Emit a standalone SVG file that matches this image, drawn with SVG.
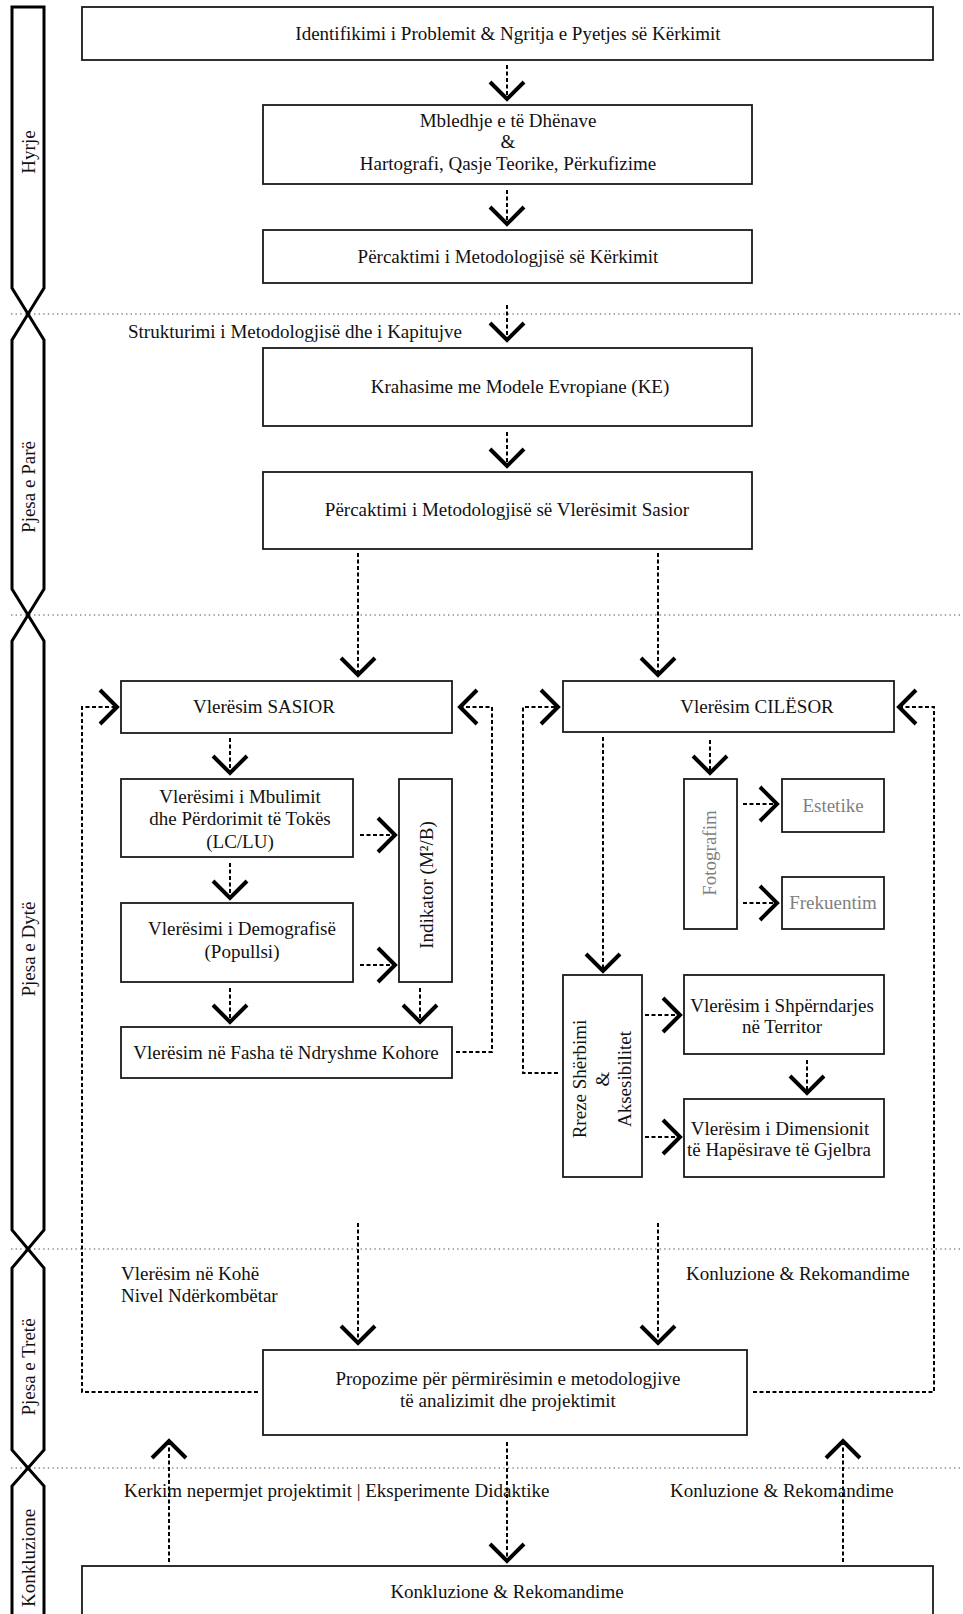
<svg xmlns="http://www.w3.org/2000/svg" width="963" height="1614" viewBox="0 0 963 1614">
<style>
text{font-family:"Liberation Serif","Times New Roman",serif;font-size:19px;fill:#111}
.c{text-anchor:middle}
.g{fill:#7f7f7f}
.box{fill:#fff;stroke:#1a1a1a;stroke-width:1.8}
.side{fill:none;stroke:#000;stroke-width:3;stroke-linejoin:miter}
.dot{stroke:#8a8a8a;stroke-width:1.6;stroke-dasharray:1.4 3.2;fill:none}
.dash{fill:none;stroke:#000;stroke-width:2;stroke-dasharray:4 2.5}
</style>
<defs>
<marker id="ah" markerUnits="userSpaceOnUse" markerWidth="44" markerHeight="44" refX="22" refY="22" orient="auto" overflow="visible">
<path d="M5,5 L22,22 L5,39" fill="none" stroke="#000" stroke-width="4" stroke-dasharray="none"/>
</marker>
</defs>
<rect width="963" height="1614" fill="#fff"/>

<g id="separators">
<line class="dot" x1="11" y1="314" x2="963" y2="314"/>
<line class="dot" x1="11" y1="615" x2="963" y2="615"/>
<line class="dot" x1="11" y1="1249" x2="963" y2="1249"/>
<line class="dot" x1="11" y1="1468" x2="963" y2="1468"/>
</g>

<g id="sidebar">
<g id="sec-hyrje"><path class="side" d="M12,7 H44 V288 L28,314 L12,288 Z"/><text transform="translate(35,152) rotate(-90)" class="c">Hyrje</text></g>
<g id="sec-pare"><path class="side" d="M28,314 L44,340 V589 L28,615 L12,589 V340 Z"/><text transform="translate(35,487) rotate(-90)" class="c">Pjesa e Parë</text></g>
<g id="sec-dyte"><path class="side" d="M28,615 L44,641 V1230 L28,1249 L12,1230 V641 Z"/><text transform="translate(35,949) rotate(-90)" class="c">Pjesa e Dytë</text></g>
<g id="sec-trete"><path class="side" d="M28,1249 L44,1268 V1450 L28,1468 L12,1450 V1268 Z"/><text transform="translate(35,1367) rotate(-90)" class="c">Pjesa e Tretë</text></g>
<g id="sec-konk"><path class="side" d="M12,1620 V1486 L28,1468 L44,1486 V1620"/><text transform="translate(35,1558) rotate(-90)" class="c">Konkluzione</text></g>
</g>

<g id="connectors">
<path class="dash" d="M507,65 V99" marker-end="url(#ah)"/>
<path class="dash" d="M507,190 V224" marker-end="url(#ah)"/>
<path class="dash" d="M507,305 V340" marker-end="url(#ah)"/>
<path class="dash" d="M507,432 V466" marker-end="url(#ah)"/>
<path class="dash" d="M358,553 V675" marker-end="url(#ah)"/>
<path class="dash" d="M658,553 V675" marker-end="url(#ah)"/>
<path class="dash" d="M258,1392 H82 V707 H117" marker-end="url(#ah)"/>
<path class="dash" d="M456,1052 H492 V707 H460" marker-end="url(#ah)"/>
<path class="dash" d="M230,738 V773" marker-end="url(#ah)"/>
<path class="dash" d="M230,863 V898" marker-end="url(#ah)"/>
<path class="dash" d="M360,835 H395" marker-end="url(#ah)"/>
<path class="dash" d="M360,965 H395" marker-end="url(#ah)"/>
<path class="dash" d="M230,988 V1022" marker-end="url(#ah)"/>
<path class="dash" d="M420,988 V1022" marker-end="url(#ah)"/>
<path class="dash" d="M603,737 V971" marker-end="url(#ah)"/>
<path class="dash" d="M710,740 V773" marker-end="url(#ah)"/>
<path class="dash" d="M743,804 H777" marker-end="url(#ah)"/>
<path class="dash" d="M743,903 H777" marker-end="url(#ah)"/>
<path class="dash" d="M645,1015 H680" marker-end="url(#ah)"/>
<path class="dash" d="M645,1137 H680" marker-end="url(#ah)"/>
<path class="dash" d="M807,1060 V1093" marker-end="url(#ah)"/>
<path class="dash" d="M558,1073 H523 V707 H558" marker-end="url(#ah)"/>
<path class="dash" d="M753,1392 H934 V707 H899" marker-end="url(#ah)"/>
<path class="dash" d="M358,1223 V1343" marker-end="url(#ah)"/>
<path class="dash" d="M658,1223 V1343" marker-end="url(#ah)"/>
<path class="dash" d="M507,1442 V1561" marker-end="url(#ah)"/>
<path class="dash" d="M169,1562 V1441" marker-end="url(#ah)"/>
<path class="dash" d="M843,1562 V1441" marker-end="url(#ah)"/>
</g>

<g id="n-identifikimi"><rect class="box" x="82" y="7" width="851" height="53"/><text class="c" x="508" y="40">Identifikimi i Problemit &amp; Ngritja e Pyetjes së Kërkimit</text></g>
<g id="n-mbledhje"><rect class="box" x="263" y="105" width="489" height="79"/><text class="c" x="508" y="127">Mbledhje e të Dhënave</text><text class="c" x="508" y="148">&amp;</text><text class="c" x="508" y="170">Hartografi, Qasje Teorike, Përkufizime</text></g>
<g id="n-percaktimi"><rect class="box" x="263" y="230" width="489" height="53"/><text class="c" x="508" y="263">Përcaktimi i Metodologjisë së Kërkimit</text></g>
<g id="l-strukturimi"><text x="128" y="338">Strukturimi i Metodologjisë dhe i Kapitujve</text></g>
<g id="n-krahasime"><rect class="box" x="263" y="348" width="489" height="78"/><text class="c" x="520" y="393">Krahasime me Modele Evropiane (KE)</text></g>
<g id="n-sasior-metod"><rect class="box" x="263" y="472" width="489" height="77"/><text class="c" x="507" y="516">Përcaktimi i Metodologjisë së Vlerësimit Sasior</text></g>

<g id="n-sasior"><rect class="box" x="121" y="681" width="331" height="52"/><text class="c" x="264" y="713">Vlerësim SASIOR</text></g>
<g id="n-lclu"><rect class="box" x="121" y="779" width="232" height="78"/><text class="c" x="240" y="803">Vlerësimi i Mbulimit</text><text class="c" x="240" y="825">dhe Përdorimit të Tokës</text><text class="c" x="240" y="848">(LC/LU)</text></g>
<g id="n-demografi"><rect class="box" x="121" y="903" width="232" height="79"/><text class="c" x="242" y="935">Vlerësimi i Demografisë</text><text class="c" x="242" y="958">(Popullsi)</text></g>
<g id="n-indikator"><rect class="box" x="399" y="779" width="53" height="203"/><text class="c" transform="translate(433,885) rotate(-90)">Indikator (M²/B)</text></g>
<g id="n-fasha"><rect class="box" x="121" y="1027" width="331" height="51"/><text class="c" x="286" y="1059">Vlerësim në Fasha të Ndryshme Kohore</text></g>

<g id="n-cilesor"><rect class="box" x="563" y="681" width="331" height="51"/><text class="c" x="757" y="713">Vlerësim CILËSOR</text></g>
<g id="n-fotografim"><rect class="box" x="684" y="779" width="53" height="150"/><text class="c g" transform="translate(716,853) rotate(-90)">Fotografim</text></g>
<g id="n-estetike"><rect class="box" x="782" y="779" width="102" height="53"/><text class="c g" x="833" y="812">Estetike</text></g>
<g id="n-frekuentim"><rect class="box" x="782" y="877" width="102" height="52"/><text class="c g" x="833" y="909">Frekuentim</text></g>
<g id="n-rreze"><rect class="box" x="563" y="975" width="79" height="202"/><text class="c" transform="translate(586,1079) rotate(-90)">Rreze Shërbimi</text><text class="c" transform="translate(609,1079) rotate(-90)">&amp;</text><text class="c" transform="translate(631,1079) rotate(-90)">Aksesibilitet</text></g>
<g id="n-shperndarje"><rect class="box" x="684" y="975" width="200" height="79"/><text class="c" x="782" y="1012">Vlerësim i Shpërndarjes</text><text class="c" x="782" y="1033">në Territor</text></g>
<g id="n-dimension"><rect class="box" x="684" y="1099" width="200" height="78"/><text class="c" x="780" y="1135">Vlerësim i Dimensionit</text><text class="c" x="779" y="1156">të Hapësirave të Gjelbra</text></g>

<g id="l-kohe"><text x="121" y="1280">Vlerësim në Kohë</text><text x="121" y="1302">Nivel Ndërkombëtar</text></g>
<g id="l-konluzione1"><text x="686" y="1280">Konluzione &amp; Rekomandime</text></g>
<g id="n-propozime"><rect class="box" x="263" y="1350" width="484" height="85"/><text class="c" x="508" y="1385">Propozime për përmirësimin e metodologjive</text><text class="c" x="508" y="1407">të analizimit dhe projektimit</text></g>
<g id="l-kerkim"><text x="124" y="1497">Kerkim nepermjet projektimit | Eksperimente Didaktike</text></g>
<g id="l-konluzione2"><text x="670" y="1497">Konluzione &amp; Rekomandime</text></g>
<g id="n-konkluzione"><rect class="box" x="82" y="1566" width="851" height="60"/><text class="c" x="507" y="1598">Konkluzione &amp; Rekomandime</text></g>
</svg>
